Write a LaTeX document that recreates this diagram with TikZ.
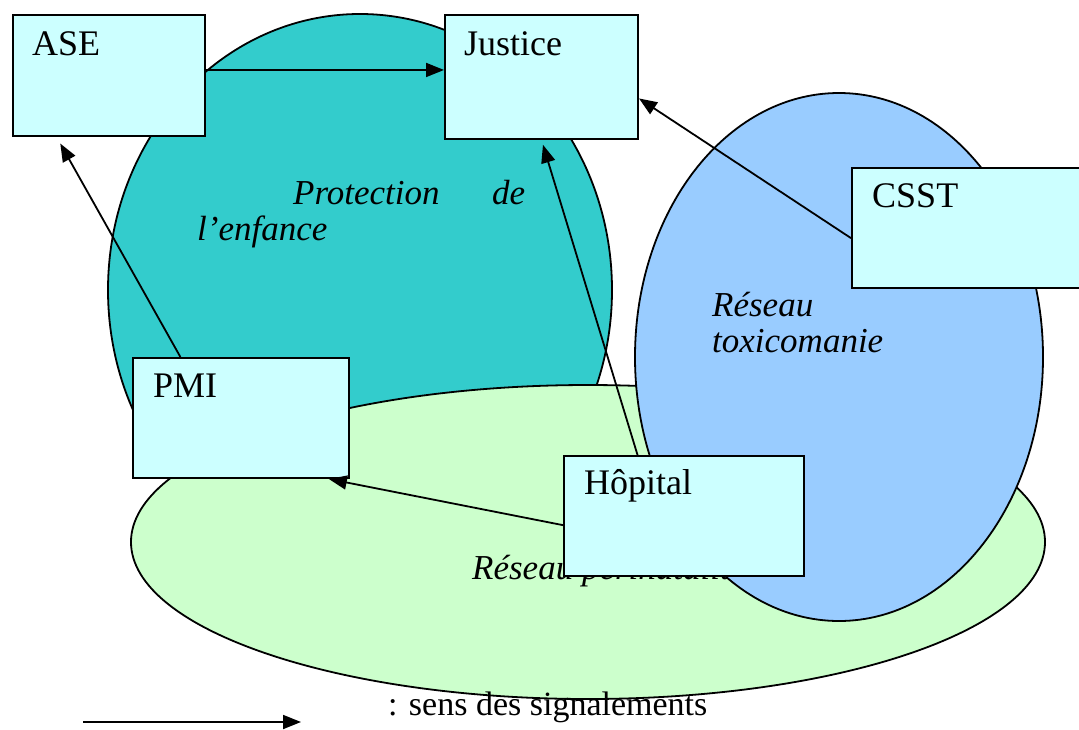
\documentclass[tikz,border=0pt]{standalone}
\usepackage{fontspec}
\setmainfont{Liberation Serif}
\usetikzlibrary{arrows.meta,calc}
\definecolor{tealfill}{HTML}{33CCCC}
\definecolor{bluefill}{HTML}{99CCFF}
\definecolor{greenfill}{HTML}{CCFFCC}
\definecolor{boxfill}{HTML}{CCFFFF}
\tikzset{
  boxnode/.style={draw=black, line width=2pt, fill=boxfill, rectangle, anchor=north west, inner sep=0pt},
  lab/.style={anchor=base west, inner sep=0pt, font=\fontsize{36}{36}\selectfont},
  itlab/.style={anchor=base west, inner sep=0pt, font=\fontsize{35}{36}\selectfont\itshape, align=left},
  zone/.style={draw=black, line width=1.8pt},
  sig/.style={draw=black, line width=1.8pt, -{Triangle[length=18pt,width=14pt]}}
}
\begin{document}
\begin{tikzpicture}[x=1pt,y=-1pt]
\clip (0,0) rectangle (1079,729);
\fill[white] (0,0) rectangle (1079,729);
% zones
\draw[zone, fill=tealfill] (360,290) ellipse [x radius=252pt, y radius=276pt];
\node[itlab, text width=328pt] (protT) at (197,204) {\hspace*{96pt}Protection\hfill de\\l’enfance};
\draw[zone, fill=greenfill] (588,542) ellipse [x radius=457pt, y radius=157pt];
\node[itlab] (periT) at (472,579) {Réseau périnatalité};
\draw[zone, fill=bluefill] (839,357) ellipse [x radius=204pt, y radius=264pt];
\node[itlab, text width=250pt] (toxT) at (712,316) {Réseau\\toxicomanie};
% boxes
\node[boxnode, minimum width=192pt, minimum height=121pt] (ase) at (12,14) {};
\node[boxnode, minimum width=193pt, minimum height=124pt] (jus) at (444,14) {};
\node[boxnode, minimum width=240pt, minimum height=120pt] (csst) at (851,167) {};
\node[boxnode, minimum width=216pt, minimum height=120pt] (pmi) at (132,357) {};
\node[boxnode, minimum width=240pt, minimum height=120pt] (hop) at (563,455) {};
\node[lab] (aseT) at (32,55) {ASE};
\node[lab] (jusT) at (464,55) {Justice};
\node[lab] (csstT) at (872,207) {CSST};
\node[lab] (pmiT) at (153,397) {PMI};
\node[lab] (hopT) at (584,494) {Hôpital};
% connectors
\coordinate (a1) at ($(ase.north east)!0.455!(ase.south east)$);
\draw[sig] (a1) -- (a1 -| jus.west);
\draw[sig] ($(csst.north west)!0.583!(csst.south west)$) -- ($(jus.north east)!0.67!(jus.south east)$);
\draw[sig, shorten >=7.5pt] ($(pmi.north west)!0.222!(pmi.north east)$) -- ($(ase.south west)!0.23!(ase.south east)$);
\draw[sig, shorten >=5pt] ($(hop.north west)!0.308!(hop.north east)$) -- (jus.south);
\draw[sig] ($(hop.north west)!0.575!(hop.south west)$) -- ($(pmi.south west)!0.903!(pmi.south east)$);
% legend
\coordinate (lgA) at (83,722);
\coordinate (lgB) at (301,722);
\draw[sig] (lgA) -- (lgB);
\node[lab, font=\fontsize{34}{36}\selectfont] (lgT) at (388,715) {: sens des signalements};
\end{tikzpicture}
\end{document}
